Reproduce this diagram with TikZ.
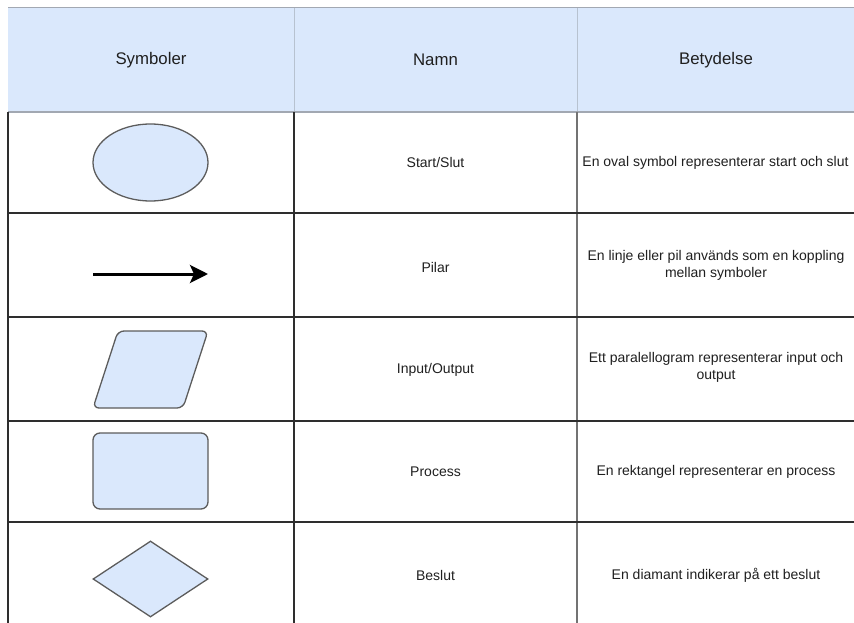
\documentclass[tikz,border=0pt]{standalone}
\usepackage{fontspec}
\setmainfont{Liberation Sans}
\usetikzlibrary{shapes.geometric,arrows.meta}

\definecolor{cellblue}{HTML}{DAE8FC}
\definecolor{headline}{HTML}{B7C2D0}
\definecolor{headbottom}{HTML}{A2A8B2}
\definecolor{gridline}{HTML}{2E2E2E}
\definecolor{shapeline}{HTML}{5C5C5C}

\tikzset{
	headtext/.style={font=\fontsize{16.8pt}{20pt}\selectfont, text=black!88},
	bodytext/.style={font=\fontsize{14pt}{17pt}\selectfont, align=center, text=black!88},
	symbol/.style={draw=shapeline, fill=cellblue, line width=1.3pt, inner sep=0pt},
}

\begin{document}
\begin{tikzpicture}[x=1pt,y=-1pt]
		\useasboundingbox (0,0) rectangle (854,623);

		% header
		\fill[cellblue] (8,8) rectangle (860,112);
		\draw[headbottom, line width=1pt] (8,8) -- (860,8);
		\draw[headline, line width=1pt] (294,8) -- (294,112);
		\draw[headline, line width=1pt] (577,8) -- (577,112);
		\draw[headbottom, line width=1.6pt] (8,112) -- (860,112);

		\node[headtext] (hSym) at (151,60) {Symboler};
		\node[headtext] (hNamn) at (435.5,60) {Namn};
		\node[headtext] (hBet) at (716,60) {Betydelse};

		% table body
		\draw[gridline, line width=1.4pt] (8,112) -- (8,626);
		\draw[gridline, line width=1.4pt] (294,112) -- (294,626);
		\draw[black!55, line width=1.4pt] (577,112) -- (577,626);
		\foreach \y in {213,317,421,522}
			\draw[gridline, line width=1.3pt] (8,\y) -- (860,\y);

		% symbols
		\node[symbol, ellipse, minimum width=115pt, minimum height=77pt] (sOval) at (150.5,162.5) {};

		\coordinate (aStart) at (93,274);
		\coordinate (aEnd) at (208,274);
		\draw[black, line width=3pt, -{Stealth[length=18pt,width=18pt,inset=4pt]}] (aStart) -- (aEnd);

		\coordinate (pBL) at (93,408);
		\coordinate (pTL) at (118,331);
		\coordinate (pTR) at (208,331);
		\coordinate (pBR) at (183,408);
		\draw[symbol, rounded corners=6pt] (pBL) -- (pTL) -- (pTR) -- (pBR) -- cycle;

		\node[symbol, rectangle, rounded corners=7pt, minimum width=115pt, minimum height=76pt] (sRect) at (150.5,471) {};
		\node[symbol, diamond, minimum width=115pt, minimum height=76pt] (sDiam) at (150.5,579) {};

		% names
		\node[bodytext] (n1) at (435.5,162.5) {Start/Slut};
		\node[bodytext] (n2) at (435.5,267) {Pilar};
		\node[bodytext] (n3) at (435.5,369.5) {Input/Output};
		\node[bodytext] (n4) at (435.5,471.5) {Process};
		\node[bodytext] (n5) at (435.5,575) {Beslut};

		% meanings
		\node[bodytext] (b1) at (715.5,162.5) {En oval symbol representerar start och slut};
		\node[bodytext] (b2) at (716,265) {En linje eller pil används som en koppling\\mellan symboler};
		\node[bodytext] (b3) at (716,367) {Ett paralellogram representerar input och\\output};
		\node[bodytext] (b4) at (716,471.5) {En rektangel representerar en process};
		\node[bodytext] (b5) at (716,575) {En diamant indikerar på ett beslut};
	\end{tikzpicture}
\end{document}
